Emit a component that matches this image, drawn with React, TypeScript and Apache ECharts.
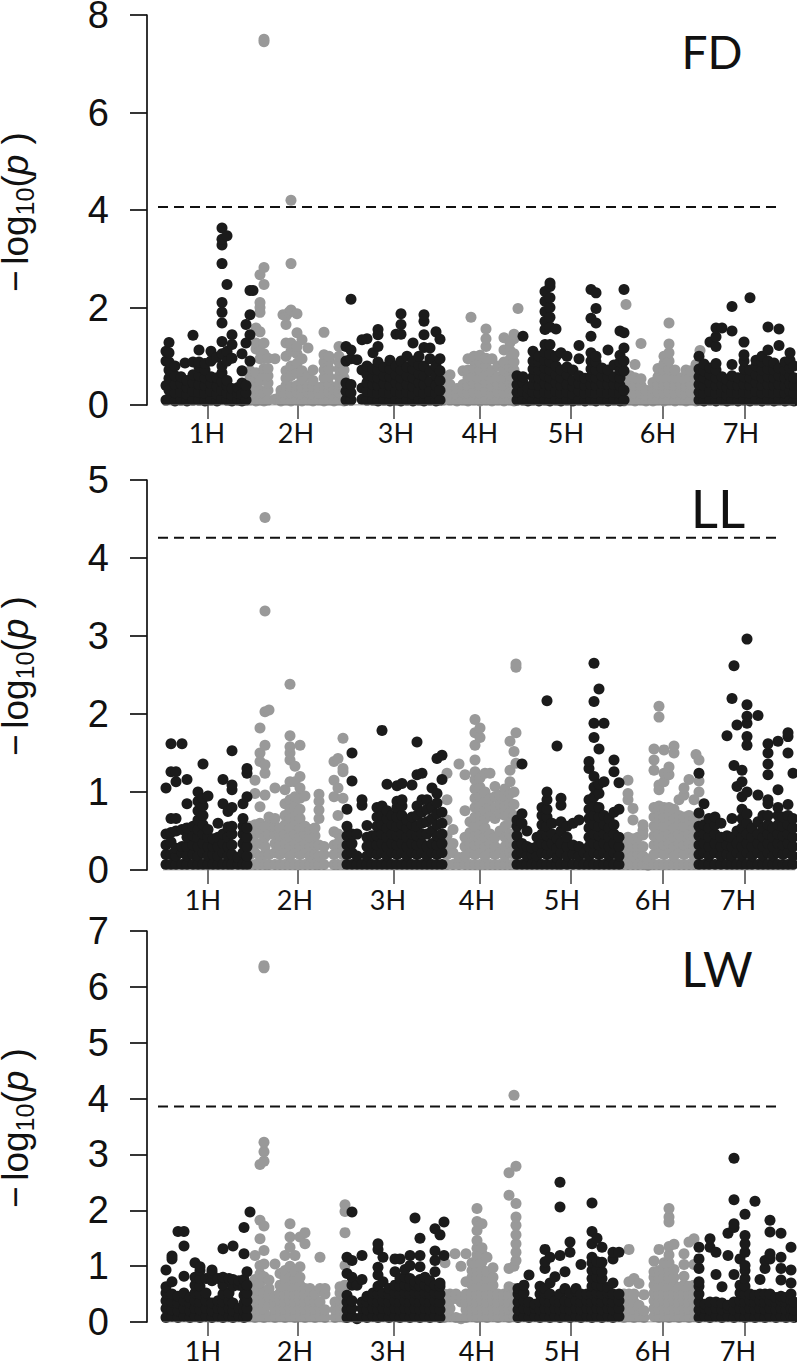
import React, { useEffect, useRef } from "react";
import * as echarts from "echarts";

const chromosomes = ["1H", "2H", "3H", "4H", "5H", "6H", "7H"];
const tickPositions = [61, 151, 247, 333, 424, 516, 598];
const labelPositionsFD = [60, 149, 249, 333, 419, 511, 594];
const labelPositionsLL = [56, 148, 241, 330, 415, 506, 591];
const labelPositionsLW = [56, 148, 241, 330, 415, 506, 591];

// Each row: chromosome position, then the -log10(p) values read at that position.
const fdBlack: number[][] = [
  [19,.1,.4,.9,1.1],[22,.12,.3,.55,.72,.88,1.07,1.28],[28,.08,.25,.42,.6,.8],[34,.1,.26,.44,.58],[38,.86],[40,.08,.22,.36,.5],
  [46,.1,.28,.46,.62,.88,1.43],[52,.1,.26,.42,.6,.78,.88,1.13],[58,.08,.24,.4,.56,.72,.85],[64,.1,.28,.44,.58,.9,1.1],[70,.08,.22,.38,.56,.98],
  [75,.12,.3,.48,.66,.8,1.05,1.3,1.68,1.9,2.1,2.9,3.28,3.4,3.63],[80,.1,.24,.4,.5,.9,1.1,2.47,3.47],[85,.08,.2,.34,.96,1.24,1.44],[91,.1,.24,.36],
  [95,.08,.22,.45,.7,1.05],[99,.1,.25,.4,1.27,1.65],[103,.9,1.44,1.85,2.35],[106,2.35],
  [199,.1,.28,.45,.9,1.2],[204,.1,.25,.42,.95,1.13,2.17],[210,.93],[215,.12,.35,.72,1.34],[220,.1,.28,.46,.62,.8,1.36],[226,.1,.26,.42,.58,.74,1.07],
  [231,.08,.24,.4,.56,.72,.88,1.2,1.44,1.55],[237,.1,.26,.44,.6,.78],[243,.08,.24,.4,.58,.74,.92],[249,.1,.28,.46,.62,.8,1.45],[254,.08,.24,.4,.56,.72,.9,1.45,1.65,1.87],
  [260,.1,.26,.42,.6,.78,1.0],[266,.08,.22,.38,.56,.74,.9,1.27],[272,.1,.28,.46,.64,.82,1.0],[277,.08,.24,.42,.6,.8,1.18,1.44,1.72,1.85],[283,.1,.28,.48,.7,.95,1.17],
  [289,.08,.24,.4,.6,.8,1.5],[293,.1,.3,.5,.7,.95,1.35],
  [370,.1,.26,.42,.6],[376,.1,.28,.46,.58,1.41],[381,.08,.22,.35],[386,.1,.26,.42,.58,.74,.9,1.1],[392,.08,.24,.4,.56,.72,.88,1.0],
  [398,.1,.26,.44,.6,.76,.92,1.08,1.24,1.55,1.72,1.92,2.13,2.33],[403,.08,.24,.4,.56,.72,.88,1.04,1.24,1.6,1.8,2.0,2.2,2.43,2.5],[409,.1,.28,.46,.62,.8,1.0,1.56],
  [414,.08,.24,.4,.56,.72,1.07],[420,.1,.26,.42,.62,.78,1.0],[426,.08,.22,.38,.5,.72],[432,.1,.28,.44,.6,.95,1.22],[438,.08,.24,.4,.55],
  [444,.1,.26,.42,.58,.74,.9,1.07,1.41,1.78,2.37],[449,.08,.24,.4,.56,.72,.88,1.0,1.68,1.98,2.3],[455,.1,.26,.44,.6,.76],[461,.08,.24,.42,.58,.72,1.13],
  [467,.1,.26,.42,.58,.82],[473,.08,.24,.4,.56,.72,.88,1.02,1.52],[477,.1,.3,.7,.9,1.17,1.48,2.37],
  [552,.1,.26,.42,.58,.74,1.0],[557,.08,.24,.4,.56,.7,.84],[563,.1,.28,.46,.62,.76,1.29],[569,.08,.24,.4,.56,.72,.85,1.2,1.4,1.58],[575,.1,.26,.42,.58,1.58],
  [580,.08,.2,.36,.52],[585,.1,.26,.42,.6,.83,1.52,2.02],[591,.08,.24,.4,.56],[597,.1,.26,.42,.58,.74,.9,1.03,1.29],[603,.08,.24,.4,.56,.72,2.2],
  [609,.1,.28,.46,.62,.8,.92],[615,.08,.24,.4,.56,.72,.88,1.0],[621,.1,.26,.42,.58,.74,.9,1.13,1.6],[627,.08,.24,.4,.56,.72,.86],[632,.1,.26,.42,.6,.76,1.22,1.56],
  [638,.08,.24,.4,.56,.72,.88],[643,.1,.28,.44,.6,.76,.92,1.07],[647,.08,.24,.4,.56,.8],
];
const fdGray: number[][] = [
  [103,.1,.26,.42,.58,.7],[109,.08,.24,.4,.56,.66,1.15,1.27,1.58],[113,.1,.3,.5,.95,1.1,1.5,1.9,2.0,2.1,2.67],[117,.08,.24,.6,.75,.96,1.05,1.27,2.47,2.82,7.45,7.5],
  [121,.1,.3,.45,.6,.75,.96],[128,.12,.95],[134,.08,.22,.3],[136,1.85],[139,.1,.26,.4,.55,.7,1.0,1.27,1.65,1.83],[142,1.9],[144,.08,.24,.38,.6,.8,1.1,1.27,1.95,2.9,4.2],
  [150,.1,.26,.4,.65,.85,1.05,1.2,1.48,1.87],[155,.08,.22,.36,.52,.7,.95,1.34],[161,.1,.26,.38,.6,1.17],[166,.08,.22,.38,.5,.72],[172,.1,.24,.36],
  [177,.08,.24,.4,.56,.72,.88,1.03,1.49],[182,.1,.26,.42,.58,.74,.9,1.0],[187,.08,.2,.32],[192,.1,.26,.42,.58,.74,.88,1.0,1.2],[197,.08,.24,.4,.56,.72],
  [296,.1,.28,.42,.55],[303,.1,.26,.42,.62],[310,.08,.22,.34],[316,.1,.26,.42,.7],[321,.08,.24,.4,.56,.72,.95],[324,1.8],[327,.1,.26,.44,.6,.76,.92,1.0],
  [333,.08,.24,.4,.56,.72,.88,1.02],[339,.1,.28,.46,.62,.8,.96,1.2,1.36,1.56],[345,.08,.22,.38,.54,.7,.95],[351,.1,.26,.42,.58,.8],[357,.08,.24,.4,.56,.72,.88,1.13,1.38],
  [363,.1,.26,.44,.6,.78,.94,1.12,1.28],[367,.08,.24,.4,.56,.72,.88,1.05,1.36,1.45],[371,1.98],
  [477,.08,.22,.38,.52],[479,2.06],[483,.1,.26,.42,.6],[488,.08,.24,.4,.56,.83],[494,.1,.24,.4,.54,1.26],[499,.08,.2,.3],[506,.08,.2,.34,.46],[511,.1,.26,.42,.58,.75],
  [517,.08,.24,.4,.56,.72,.85,1.0],[522,.1,.26,.42,.58,.74,.9,1.07,1.25,1.68],[528,.08,.24,.4,.56,.72],[534,.1,.26,.42,.56],[539,.08,.22,.38,.54,.72],
  [544,.1,.26,.42,.58,.7],[549,.08,.2,.36,.5,.83],[553,1.12],
];

const llBlack: number[][] = [
  [19,.07,.2,.32,.46,1.05],[24,.07,.2,.36,.48,.66,1.26,1.62],[29,.07,.18,.28,.5,.66,1.13,1.26],[35,.07,.22,.3,.52,1.62],[40,.07,.18,.3,.42,.54,.85,1.16],
  [46,.07,.2,.32,.44,.56],[51,.07,.18,.3,.42,.52,.64,.76,.88,1.0],[56,.07,.22,.34,.46,.58,.7,.82,.92,1.36],[61,.07,.18,.3,.42,.52,.95],[66,.07,.2,.3,.4],
  [71,.07,.18,.3,.42,.6],[76,.07,.22,.34,.46,.85,1.16],[81,.07,.18,.3,.42,.55,.75],[85,.07,.2,.32,.46,.56,.8,1.03,1.09,1.53],[91,.07,.16],
  [96,.07,.22,.34,.46,.56,.66,.85],[100,.07,.18,.3,.42,.54,.94,1.24,1.3],
  [200,.07,.2,.32,.44,.56,.78],[205,.07,.22,.34,.46,1.14,1.5],[210,.07,.18,.46],[215,.07,.83,.9],[220,.07,.18,.3,.42,.57],[225,.07,.22,.34,.44],
  [230,.07,.2,.32,.44,.56,.68,.8],[235,.07,.22,.34,.46,.58,.7,.82,1.79],[240,.07,.18,.3,.42,.54,.66,.76,1.1],[245,.07,.22,.34,.46,.58,.7],[250,.07,.2,.32,.44,.56,.68,.8,.88,1.08],
  [255,.07,.22,.34,.46,.58,.7,.82,.9,1.11],[260,.07,.18,.3,.42,.54,.64],[265,.07,.22,.34,.46,.58,.68,1.09],[270,.07,.2,.32,.44,.56,.7,.82,1.22,1.64],
  [275,.07,.22,.34,.46,.6,.74,.9,1.24],[280,.07,.18,.3,.46,.62,.78,.9],[285,.07,.22,.34,.5,.66,.8,1.05],[290,.07,.2,.32,.44,.58,.72,.86,.98,1.43],[295,.07,.22,.34,.46,.6,.74,1.16,1.47],
  [370,.07,.2,.32,.44,.56,.64],[375,.07,.22,.34,.6,.72,1.36],[380,.07,.18,.3,.5],[385,.07,.2,.28],[390,.07,.18,.3,.42],[395,.07,.22,.34,.46,.58,.7,.8],
  [400,.07,.2,.32,.44,.56,.68,.78,.9,1.0,2.17],[405,.07,.22,.34,.46,.6],[410,.07,.16,.28,.4,1.59],[414,.07,.22,.34,.5,.62,.83,.92],[420,.07,.18,.3,.42,.56],
  [426,.07,.2,.32,.6],[432,.07,.18,.3,.64],[437,.07,.22],[442,.07,.18,.3,.42,.54,.66,.78,.9,1.3,1.39],[447,.07,.22,.34,.46,.58,.7,.82,.94,1.06,1.2,1.7,1.88,2.16,2.65],
  [452,.07,.2,.32,.44,.56,.68,.8,.98,1.1,1.55,2.32],[457,.07,.22,.34,.46,.58,.7,1.13,1.88],[462,.07,.18,.3,.42,.54,.66],[467,.07,.22,.34,.46,.58,.74,1.26,1.41],[472,.07,.18,.3,.42,.78,1.12],
  [552,.07,.2,.32,.44,.56,.73,1.24],[557,.07,.22,.34,.46,.58,.85],[562,.07,.18,.3,.42,.54,.66],[568,.07,.22,.34,.46,.58,.68],[574,.07,.18,.3,.42,.6],[580,.07,.2,.32,.44,1.72],
  [585,.07,.18,.3,.42,.66,2.2],[587,1.34,2.62],[590,.07,.22,.34,.5,1.07,1.86],[595,.07,.18,.3,.42,.54,.66,.78,.94,1.13,1.28],[600,.07,.22,.34,.46,.6,.72,1.0,1.6,1.71,1.88,1.97,2.12,2.96],
  [605,.07,.18,.3,.42,.54],[611,.07,.22,.34,.46,.62,.96,1.98],[616,.07,.18,.3,.42,.54,.7],[621,.07,.22,.34,.46,.58,.7,.85,.9,1.22,1.36,1.5,1.62],[626,.07,.18,.3,.42,.54],
  [631,.07,.22,.34,.46,.58,.7,.8,1.03,1.65],[636,.07,.2,.32,.44,.56,.68],[641,.07,.22,.34,.46,.58,.7,.84,1.5,1.71,1.76],[646,.07,.18,.3,.42,.54,.66,1.24],
];
const llGray: number[][] = [
  [103,.07,.2,.32,.44,.56],[108,.07,.22,.34,.46,.58,.98,1.15],[113,.07,.18,.34,.48,.6,.81,1.39,1.5,1.82],[118,.07,.2,.3,.42,.56,.96,1.24,1.35,1.6,2.03,3.32,4.52],
  [122,.07,.2,.46,.58,.68,2.05],[128,.07,.22,.34,.46,.56,.66,1.05],[133,.07,.2,.32,.44,.54],[138,.07,.22,.34,.46,.58,.7,.85,1.03],
  [143,.07,.18,.3,.42,.54,.66,.78,.9,1.13,1.41,1.5,1.58,1.72,2.38],[148,.07,.22,.34,.46,.58,.7,.82,.94,1.13,1.33],[153,.07,.2,.3,.42,.54,.66,.78,.92,1.05,1.2,1.6],
  [158,.07,.22,.34,.46,.56,.95],[163,.07,.18,.3,.42,.52],[168,.07,.2,.32,.44,.54],[172,.07,.18,.32,.66,.77,.88,.97],[177,.07,.2,.3],
  [187,.07,.2,.32,.49,.94,1.15,1.39],[191,.07,.22,.34,.46,.7,1.05,1.43],[196,.07,.2,.3,.42,.92,1.26,1.3,1.69],
  [300,.07,.2,.32,.44,.64,.9,1.24],[306,.07,.22,.34,.52],[312,.07,.16,1.36],[318,.07,.18,.3,.42,.76,1.22],[323,.07,.22,.34,.48,.62],
  [328,.07,.2,.32,.44,.56,.68,.8,.92,1.04,1.16,1.26,1.41,1.6,1.76,1.93],[333,.07,.22,.34,.46,.58,.7,.82,.94,1.06,1.18,1.7,1.82],[338,.07,.18,.3,.42,.54,.66,.76,.88,1.0,1.24],
  [343,.07,.22,.34,.46,.7,.82,.92,1.24],[348,.07,.2,.3,.42,.66,.8,.94,1.07],[353,.07,.22,.5,.72,.84,.96],[358,.07,.18,.3,.42,.56,.7,.82,.94,1.04],
  [363,.07,.22,.34,.46,.6,.74,.86,.98,1.13,1.28,1.65],[367,.07,.2,.32,.44,.7,.84,1.0,1.52],[369,1.37,1.76,2.6,2.64],
  [476,.07,.18,.3],[481,.07,.2,.32,.42,.9,.98,1.15],[486,.07,.18,.3,.4,.64,.79],[491,.07,.2,.3,.42],[496,.07,.18,.3,.45,.51,.58],[501,.06,.14],
  [507,.07,.2,.32,.44,.56,.68,.8,1.28,1.41,1.55],[512,.07,.22,.34,.46,.58,.7,.82,1.03,1.09,1.96,2.1],[517,.07,.2,.32,.44,.56,.68,.8,1.13,1.24,1.54],
  [522,.07,.22,.34,.46,.58,.7,.8,1.22,1.32],[527,.07,.18,.3,.42,.54,.66,.78,1.5,1.59],[532,.07,.22,.34,.46,.58,.7,.9],[537,.07,.2,.32,.44,.56,.68,.96,1.05],
  [542,.07,.22,.34,.46,.58,.7,1.16],[547,.07,.18,.3,.42,.54,.66,.9],[549,1.48],[552,.07,.7,1.0,1.14,1.41],
];

const lwBlack: number[][] = [
  [19,.08,.24,.38,.52,.63,.93],[25,.1,.22,.36,.5,.72,1.13,1.18],[31,.08,.2,.34,.46,1.62],[37,.1,.24,.38,.52,.82,1.36,1.62],[43,.08,.2,.34,.44],
  [48,.1,.24,.38,.52,.66,.8,1.06],[53,.08,.22,.36,.5,.64,.78,.92,.99],[59,.1,.24,.38,.52,.78],[65,.08,.2,.34,.74,.88,.93],[71,.1,.24,.38,.78],
  [76,.08,.22,.36,.5,.66,.8,1.31],[82,.1,.24,.38,.52,.78],[86,.08,.2,.34,.64,.76,1.36],[92,.1,.24,.66,.74],[97,.08,.2,.34,.48,.62,.76,1.22,1.69],[100,.1,.24,.38,.52,.66,.9],[103,1.97],
  [200,.08,.22,.36,.48,.87,1.16],[205,.1,.24,.38,.66,.8,1.1,1.97],[210,.06,.66],[215,.1,.24,.36,.76,1.19],[220,.08,.22,.36,.46],[226,.1,.24,.38,.52],
  [231,.08,.22,.36,.5,.64,.84,.98,1.3,1.4],[236,.1,.24,.38,.52,.72,1.16],[242,.08,.22,.36,.5,.6],[248,.1,.24,.38,.52,.66,.9,1.13],[253,.08,.22,.36,.5,.64,.78,1.13],
  [258,.1,.24,.38,.52,.66,.8,.94],[263,.08,.22,.36,.5,.64,.78,1.01,1.19],[268,.1,.24,.38,.52,.66,.72,1.86],[273,.08,.22,.36,.5,.64,.76,.99,1.19,1.5],[278,.1,.24,.38,.52,.66,.8],
  [283,.08,.22,.36,.5,.62,.74],[288,.1,.24,.38,.52,.66,.9,1.1,1.27,1.67],[293,.08,.22,.36,.5,.64,.7,1.56],[297,1.19,1.79],
  [371,.08,.22,.36,.5,.6],[377,.1,.24,.38,.52,.66],[382,.08,.22,.36,.84],[388,.1,.24,.32],[393,.08,.22,.36,.5,.64],[398,.1,.24,.38,.52,.6,.96,1.08,1.3],[403,.08,.22,.36,.5,.7,1.16],
  [408,.1,.24,.38,.81],[413,.08,.22,.36,.5,1.19,2.06,2.5],[418,.1,.24,.38,.6,.9],[423,.08,.22,.36,.52,1.25,1.43],[429,.1,.24,.38,.55,.6],[434,.08,.22,.36,.5,1.03],[440,.1,.24,.38,.5],
  [445,.08,.22,.36,.5,.64,.78,.92,1.06,1.16,1.4,1.62,2.13],[450,.1,.24,.38,.52,.66,.8,.94,1.08,1.5],[455,.08,.22,.36,.5,.64,.78,.9,1.07,1.34],[461,.1,.24,.38,.52,.62],
  [466,.08,.22,.36,.5,.7,1.13,1.25],[472,.1,.24,.38,.5,1.25],
  [552,.08,.22,.36,.5,.64,.72,.96,1.13,1.34],[558,.1,.24,.32],[563,.08,.22,.36,1.34,1.49],[569,.1,.24,.36,.85,1.25],[575,.08,.22,.34,.63],[581,.1,.24,.3,1.19,1.59],
  [587,.08,.22,.36,.85,1.69,1.76,2.19,2.93],[593,.1,.24,.38,.52,.66,1.13],[598,.08,.22,.36,.5,.64,.78,.92,1.01,1.25,1.4,1.55,1.93],[603,.1,.24,.38,.5],[608,.08,.22,.36,.48,2.16],
  [613,.1,.24,.38,.5,.76],[618,.08,.22,.36,.5,.96,1.1],[623,.1,.24,.38,.5,1.13,1.22,1.61,1.82],[629,.08,.22,.36,.44],[634,.1,.24,.38,.46,.75,.96,1.16,1.59],[639,.08,.22,.36,.44],
  [644,.1,.24,.38,.5,.7,.93,1.34],[647,.08,.22,.36],
];
const lwGray: number[][] = [
  [103,.1,.24,.38,.52,.66],[108,.08,.22,.36,.5,.64,.76,1.19],[113,.1,.24,.4,.56,.7,.86,1.01,1.49,1.82,2.82],[117,.08,.22,.36,.52,.81,1.04,1.28,1.72,2.88,3.05,3.22,6.34,6.38],
  [122,.1,.3,.45,.6,.75],[128,.08,.22,.36,.46,1.04],[133,.1,.24,.38,.52,.66,.87],[138,.08,.22,.36,.5,.64,.78,.92,1.19],[143,.1,.24,.38,.52,.66,.8,1.0,1.34,1.52,1.76],
  [148,.08,.22,.36,.5,.64,.78,.9,1.19],[153,.1,.24,.38,.52,.66,.8,.99,1.52],[158,.08,.22,.36,.5,.6,1.4,1.6],[163,.1,.24,.38,.6],[168,.08,.22,.36,.5],[173,.1,.24,.36,.6,1.16],[178,.08,.22,.5,.6],
  [188,.08,.22,.36],[193,.1,.24,.38,.52,.63],[198,.08,.22,.36,.5,.66,1.01,1.6,1.98,2.1],
  [297,.08,.22,.36,.5],[298,1.06],[303,.1,.24,.38,.5],[308,1.22],[309,.08,.42,.5],[314,.06,.36,.44,1.0],[319,.08,.22,.36,.5,.72,1.22],[325,.1,.24,.38,.52,.66,.8,.92,1.06],
  [330,.08,.22,.36,.5,.64,.78,.92,1.06,1.2,1.32,1.46,1.64,1.8,2.03],[335,.1,.24,.38,.52,.66,.8,.94,1.08,1.22,1.33,1.76],[340,.08,.22,.36,.5,.64,.78,.9,1.16],[346,.1,.24,.38,.52,.66,.8,.97],
  [351,.08,.22,.36,.5],[357,.1,.24,.38,.5],[362,.08,.22,.36,.5,.63,.96,2.27,2.67],[367,.1,.24,.38,.6,1.0,4.06],[369,1.1,1.25,1.4,1.56,1.73,1.88,2.12,2.79],
  [477,.08,.22,.36,.5],[482,.1,.24,.38,.5,.72,1.3],[487,.08,.22,.36,.5,.78],[492,.1,.24,.3,.69],[497,.08,.2,.49],[507,.1,.24,.38,.52,.66,.8,.9,1.09],[512,.08,.22,.36,.5,.64,.78,.92,1.3],
  [517,.1,.24,.38,.52,.66,.8,.94,1.06],[522,.08,.22,.36,.5,.64,.78,.92,1.06,1.2,1.35,1.79,1.88,2.03],[527,.1,.24,.38,.52,.66,.8,.94,1.39],[532,.08,.22,.36,.5,.62],
  [537,.1,.24,.38,.52,.66,.82,1.03,1.22],[542,.08,.22,.36,.5,.64,1.43],[547,.1,.24,.38,.52,.66,1.03,1.49],
];

const panels = [
  { name: "FD", black: fdBlack, gray: fdGray, max: 8, step: 2, threshold: 4.06, labels: labelPositionsFD, top: 15, height: 390, labelMargin: 14, titleX: 712, titleY: 51, titleSize: 46, ylabelY: 212 },
  { name: "LL", black: llBlack, gray: llGray, max: 5, step: 1, threshold: 4.26, labels: labelPositionsLL, top: 480, height: 390, labelMargin: 16, titleX: 718, titleY: 507, titleSize: 53, ylabelY: 676 },
  { name: "LW", black: lwBlack, gray: lwGray, max: 7, step: 1, threshold: 3.86, labels: labelPositionsLW, top: 931, height: 391, labelMargin: 15, titleX: 717, titleY: 968, titleSize: 48, ylabelY: 1128 },
];

const BLACK = "#1b1b1b";
const GRAY = "#999999";
const NUM_FONT = "Liberation Sans";
const CAT_FONT = "Lato";

const expand = (rows: number[][]) => rows.flatMap(([x, ...ys]) => ys.map((y) => [x, y]));

export default function App() {
  const ref = useRef<HTMLDivElement>(null);
  useEffect(() => {
    const chart = echarts.init(ref.current!, null, { renderer: "svg" });
    const series: any[] = [];
    panels.forEach((p, i) => {
      const base = { xAxisIndex: i, yAxisIndex: i, silent: true };
      series.push({ ...base, type: "line", data: [[16, 0], [648, 0]], symbol: "none", lineStyle: { color: "#777", width: 1 } });
      series.push({ ...base, type: "scatter", data: expand(p.gray), symbol: "circle", symbolSize: 11, itemStyle: { color: GRAY, opacity: 1 }, clip: true });
      series.push({ ...base, type: "scatter", data: expand(p.black), symbol: "circle", symbolSize: 11, itemStyle: { color: BLACK, opacity: 1 }, clip: true });
      series.push({ ...base, type: "line", data: [[11, p.threshold], [630, p.threshold]], symbol: "none", lineStyle: { color: "#111", width: 2, type: [10, 6] } });
    });
    chart.setOption({
      animation: false,
      backgroundColor: "#ffffff",
      grid: panels.map((p) => ({ left: 147, right: 0, top: p.top, height: p.height, containLabel: false, outerBoundsMode: "none" })),
      xAxis: panels.map((p, i) => ({
        type: "value",
        gridIndex: i,
        min: 0,
        max: 650,
        splitLine: { show: false },
        axisLine: { show: false },
        axisTick: { show: true, customValues: tickPositions, length: 14, lineStyle: { color: "#444", width: 1.5 } },
        axisLabel: {
          customValues: p.labels,
          margin: p.labelMargin,
          fontFamily: CAT_FONT,
          fontSize: 27,
          color: "#111",
          hideOverlap: false,
          formatter: (v: number) => chromosomes[p.labels.indexOf(v)] ?? "",
        },
      })),
      yAxis: panels.map((p, i) => ({
        type: "value",
        gridIndex: i,
        min: 0,
        max: p.max,
        interval: p.step,
        splitLine: { show: false },
        axisLine: { show: true, lineStyle: { color: "#111", width: 1.7 } },
        axisTick: { show: true, length: 17, lineStyle: { color: "#111", width: 1.7 } },
        axisLabel: { margin: 38, fontFamily: NUM_FONT, fontSize: 38, color: "#111" },
      })),
      graphic: panels.flatMap((p) => [
        {
          type: "text",
          x: p.titleX,
          y: p.titleY,
          style: { text: p.name, fontFamily: CAT_FONT, fontSize: p.titleSize, fill: "#111", align: "center", verticalAlign: "middle" },
        },
        {
          type: "text",
          x: 15,
          y: p.ylabelY,
          rotation: Math.PI / 2,
          style: {
            text: "{n|−}{t| }{n|log}{s|10}{n|(}{i|p}{n| )}",
            align: "center",
            verticalAlign: "middle",
            rich: {
              n: { fontFamily: NUM_FONT, fontSize: 37, lineHeight: 44, verticalAlign: "middle", fill: "#111" },
              t: { fontFamily: NUM_FONT, fontSize: 20, lineHeight: 44, verticalAlign: "middle", fill: "#111" },
              s: { fontFamily: NUM_FONT, fontSize: 25, lineHeight: 44, verticalAlign: "bottom", fill: "#111" },
              i: { fontFamily: NUM_FONT, fontStyle: "italic", fontSize: 37, lineHeight: 44, verticalAlign: "middle", fill: "#111" },
            },
          },
        },
      ]),
      series,
    });
    return () => chart.dispose();
  }, []);
  return <div ref={ref} style={{ position: "absolute", left: 0, top: 0, width: 797, height: 1365 }} />;
}
